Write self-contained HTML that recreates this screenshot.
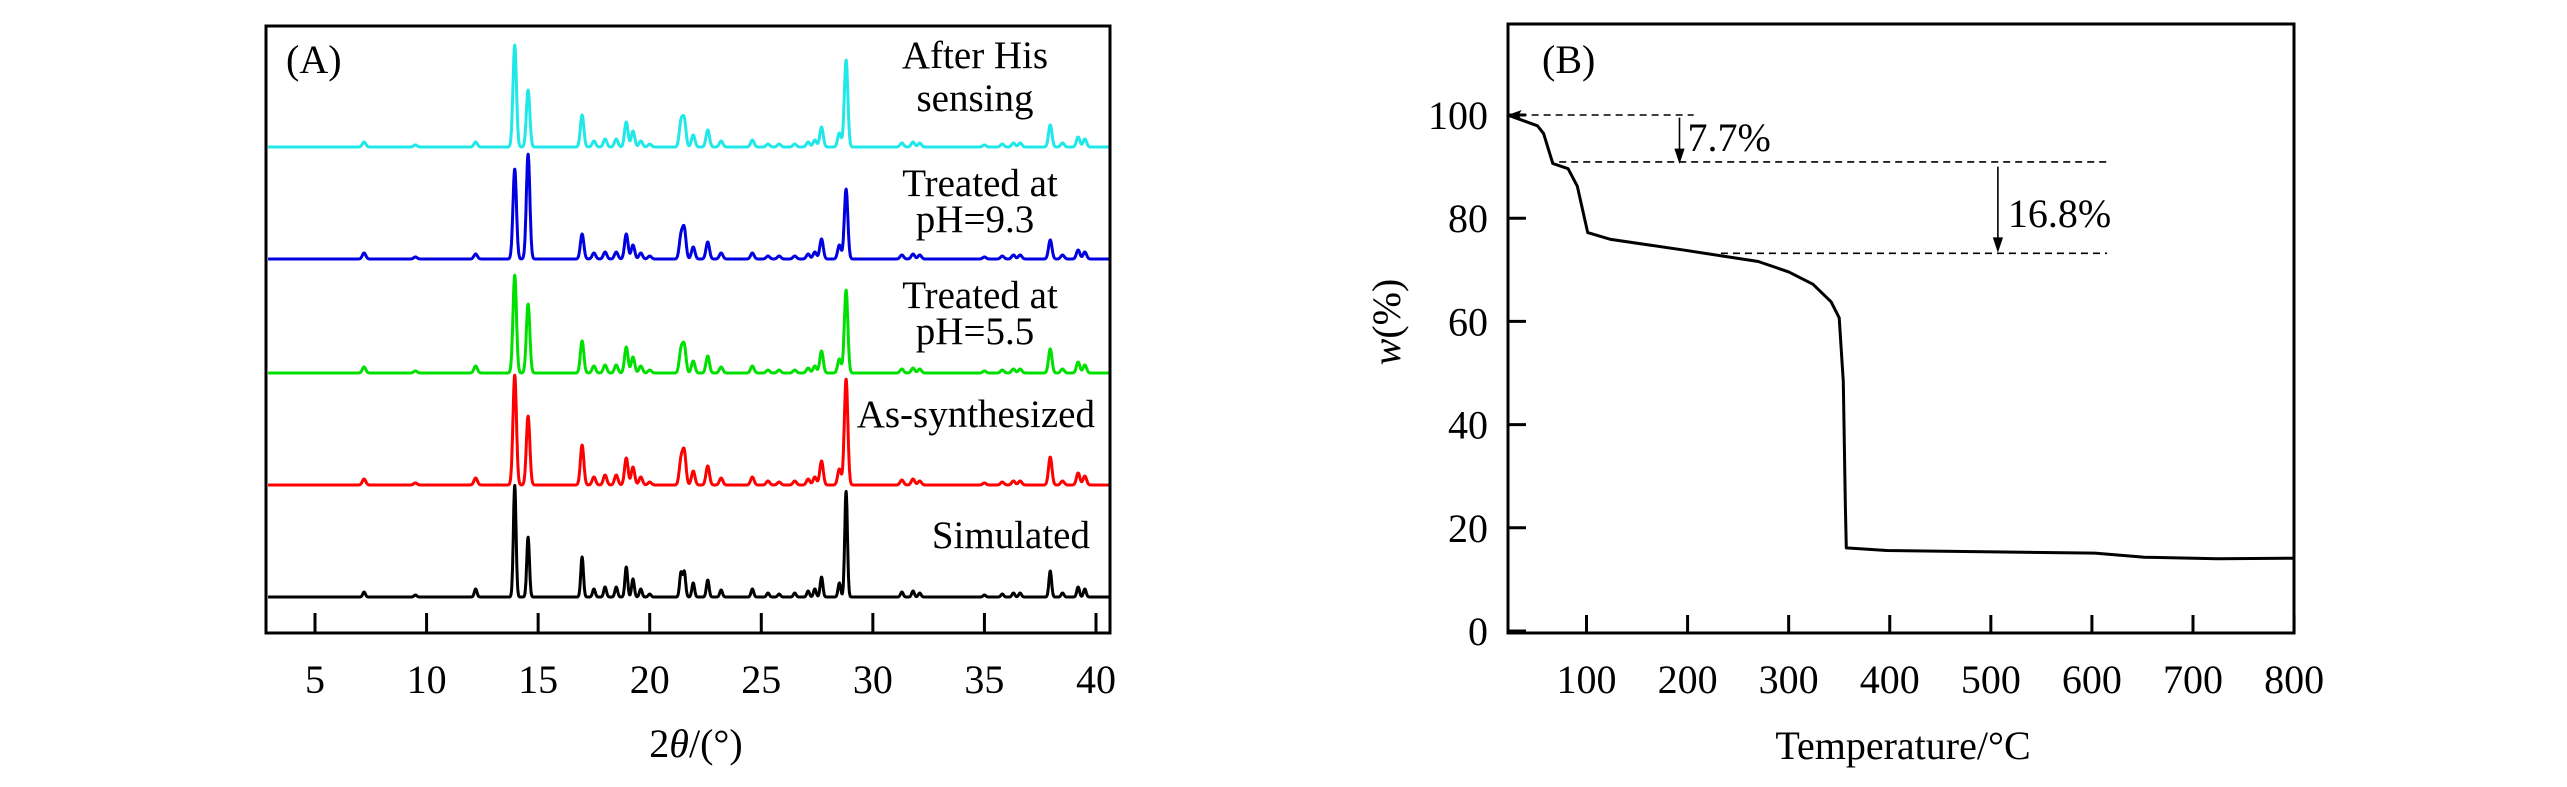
<!DOCTYPE html>
<html><head><meta charset="utf-8"><style>
html,body{margin:0;padding:0;background:#fff;}
svg{display:block;}
text{font-family:"Liberation Serif","Times New Roman",serif;fill:#000;}
</style></head><body>
<svg id="fig" width="2567" height="787" viewBox="0 0 2567 787" xmlns="http://www.w3.org/2000/svg" font-family="Liberation Serif, serif">
<defs><clipPath id="clipA"><rect x="266" y="26" width="844" height="607"/></clipPath>
<clipPath id="clipB"><rect x="1508" y="24" width="786" height="609"/></clipPath></defs>
<g id="panelA">
<g id="tracesA" clip-path="url(#clipA)"></g>
<rect x="266" y="26" width="844" height="607" fill="none" stroke="#000" stroke-width="3"/>
<g id="ticksA"></g>
<text x="286" y="73" font-size="40">(A)</text>
<text x="696" y="757" font-size="40" text-anchor="middle">2<tspan font-style="italic">θ</tspan>/(°)</text>
<g font-size="39">
<text x="975" y="68" text-anchor="middle">After His</text>
<text x="975" y="111" text-anchor="middle">sensing</text>
<text x="980" y="196" text-anchor="middle">Treated at</text>
<text x="975" y="232" text-anchor="middle">pH=9.3</text>
<text x="980" y="308" text-anchor="middle">Treated at</text>
<text x="975" y="344" text-anchor="middle">pH=5.5</text>
<text x="1095" y="427" text-anchor="end">As-synthesized</text>
<text x="1090" y="548" text-anchor="end">Simulated</text>
</g>
</g>
<g id="panelB">
<g id="plotB" clip-path="url(#clipB)"></g>
<rect x="1508" y="24" width="786" height="609" fill="none" stroke="#000" stroke-width="3"/>
<g id="ticksB"></g>
<text x="1542" y="73" font-size="40">(B)</text>
<text x="1903" y="759" font-size="40" text-anchor="middle">Temperature/°C</text>
<text transform="translate(1400,322) rotate(-90)" font-size="40" text-anchor="middle"><tspan font-style="italic">w</tspan>(%)</text>
<text id="lab77" font-size="40">7.7%</text>
<text id="lab168" font-size="40">16.8%</text>
</g>
</svg>
<script>
// ---------- Panel A data ----------
const peakPos = [7.2,9.5,12.2,13.95,14.55,16.97,17.5,18.0,18.5,18.95,19.25,19.6,20.0,21.4,21.55,21.95,22.6,23.2,24.6,25.3,25.8,26.5,27.1,27.4,27.7,28.5,28.8,31.3,31.8,32.1,35.0,35.8,36.3,36.6,37.95,38.5,39.2,39.5];
const hSimulated = [5,2,8,112,60,40,8,10,10,30,18,8,3,24,25,14,17,7,8,4,3,4,6,8,20,14,106,5,6,4,2,3,4,4,26,4,10,8];
const hAsSynth  = [6,2,7,110,69,40,8,10,10,27,18,8,3,24,32,14,19,7,8,4,3,4,6,8,24,16,106,5,6,4,2,3,4,4,28,4,12,9];
const hPH55     = [6,2,7,98,69,32,7,8,8,26,16,7,3,22,26,12,17,6,7,3,3,3,5,7,22,14,83,4,5,4,2,3,4,4,24,4,11,8];
const hPH93     = [6,2,5,90,105,25,6,7,7,25,14,6,3,22,29,12,17,6,6,3,3,3,5,7,20,14,70,4,5,4,2,3,4,4,19,4,9,7];
const hAfterHis = [5,2,5,102,57,32,6,8,8,25,16,6,3,24,26,12,17,6,7,3,3,3,5,7,20,14,87,4,5,4,2,3,4,4,22,4,10,8];
const seriesNames = ["simulated","as-synthesized","ph-5-5","ph-9-3","after-his"];
const seriesColors = ["#000000","#ff0000","#00e000","#0000e0","#20e8e8"];
const seriesBase = [597,485,373,259,147];
const xTicksA = [5,10,15,20,25,30,35,40];

const NS="http://www.w3.org/2000/svg";
const xA = v => 315 + (v-5)*(1096-315)/35;
const tracesA=document.getElementById('tracesA');
const allH=[hSimulated,hAsSynth,hPH55,hPH93,hAfterHis];
allH.forEach((hs,si)=>{
  const w = si===0?0.085:0.11;
  let d="";
  for(let t=2.9;t<=40.6;t+=0.015){
    let s=0;
    for(let k=0;k<peakPos.length;k++){const u=(t-peakPos[k])/w;s+=hs[k]*Math.exp(-u*u);}
    const y=seriesBase[si]-s;
    d+=(d?"L":"M")+xA(t).toFixed(1)+","+y.toFixed(1);
  }
  const p=document.createElementNS(NS,'path');
  p.setAttribute('d',d);p.setAttribute('fill','none');p.setAttribute('stroke',seriesColors[si]);
  p.setAttribute('stroke-width','3');p.setAttribute('stroke-linejoin','round');
  
  
  tracesA.appendChild(p);
});
const ticksA=document.getElementById('ticksA');
xTicksA.forEach(v=>{
  const l=document.createElementNS(NS,'line');
  l.setAttribute('x1',xA(v));l.setAttribute('x2',xA(v));l.setAttribute('y1',633);l.setAttribute('y2',613);
  l.setAttribute('stroke','#000');l.setAttribute('stroke-width','3');
  
  
  ticksA.appendChild(l);
  const t=document.createElementNS(NS,'text');
  t.setAttribute('x',xA(v));t.setAttribute('y',693);t.setAttribute('font-size','40');t.setAttribute('text-anchor','middle');
  t.setAttribute('font-family','Liberation Serif, serif');
  t.textContent=v;
  
  
  ticksA.appendChild(t);
});

// ---------- Panel B data ----------
const tempC  = [22,51.5,57.6,66.7,81.8,90.9,101.2,124,197,270,300,324,342,350,354,356,357,397,603,652,724,800];
const weight = [100,97.9,96.4,90.6,89.6,86.2,77.2,75.9,73.8,71.6,69.6,67.2,63.8,60.7,48.3,24.8,16.1,15.6,15.1,14.3,14.0,14.1];
const xTicksB = [100,200,300,400,500,600,700,800];
const yTicksB = [0,20,40,60,80,100];
const dashW = [100,90.9,73.2];
const dashFrom = [22,73,233];
const dashTo = [206,615,615];
const arrowT = [192,507];
const arrowFromW = [99.5,90];
const arrowToW = [91,73.8];

const xB = t => 1586.5 + (t-100)*(2193-1586.5)/600;
const yB = w => 631 - w*(631-115)/100;
const plotB=document.getElementById('plotB');
let dB="";
tempC.forEach((t,i)=>{dB+=(i?"L":"M")+xB(t).toFixed(1)+","+yB(weight[i]).toFixed(1);});
const curve=document.createElementNS(NS,'path');
curve.setAttribute('d',dB);curve.setAttribute('fill','none');curve.setAttribute('stroke','#000');curve.setAttribute('stroke-width','3');curve.setAttribute('stroke-linejoin','round');


plotB.appendChild(curve);
dashW.forEach((w,i)=>{
  const l=document.createElementNS(NS,'line');
  l.setAttribute('x1',xB(dashFrom[i]));l.setAttribute('x2',xB(dashTo[i]));l.setAttribute('y1',yB(w));l.setAttribute('y2',yB(w));
  l.setAttribute('stroke','#000');l.setAttribute('stroke-width','1.6');l.setAttribute('stroke-dasharray','7,5');
  
  
  plotB.appendChild(l);
});
const ah0=document.createElementNS(NS,'path');
ah0.setAttribute('d',`M${xB(22)},${yB(100)} l14,-5 l-3,5 l3,5 z`);ah0.setAttribute('fill','#000');


plotB.appendChild(ah0);
arrowT.forEach((t,i)=>{
  const x=xB(t),y1=yB(arrowFromW[i]),y2=yB(arrowToW[i]);
  const g=document.createElementNS(NS,'path');
  g.setAttribute('d',`M${x},${y1}L${x},${y2-8}M${x-4},${y2-12}L${x},${y2}L${x+4},${y2-12}Z`);
  g.setAttribute('stroke','#000');g.setAttribute('stroke-width','1.6');g.setAttribute('fill','#000');
  
  
  plotB.appendChild(g);
});
const l77=document.getElementById('lab77');l77.setAttribute('x',xB(arrowT[0])+8);l77.setAttribute('y',151);
const l168=document.getElementById('lab168');l168.setAttribute('x',xB(arrowT[1])+10);l168.setAttribute('y',227);
const ticksB=document.getElementById('ticksB');
xTicksB.forEach(v=>{
  const l=document.createElementNS(NS,'line');
  l.setAttribute('x1',xB(v));l.setAttribute('x2',xB(v));l.setAttribute('y1',633);l.setAttribute('y2',615);
  l.setAttribute('stroke','#000');l.setAttribute('stroke-width','3');
  
  
  ticksB.appendChild(l);
  const t=document.createElementNS(NS,'text');
  t.setAttribute('x',xB(v));t.setAttribute('y',693);t.setAttribute('font-size','40');t.setAttribute('text-anchor','middle');
  t.setAttribute('font-family','Liberation Serif, serif');
  t.textContent=v;
  
  
  ticksB.appendChild(t);
});
yTicksB.forEach(v=>{
  const l=document.createElementNS(NS,'line');
  l.setAttribute('x1',1508);l.setAttribute('x2',1526);l.setAttribute('y1',yB(v));l.setAttribute('y2',yB(v));
  l.setAttribute('stroke','#000');l.setAttribute('stroke-width','3');
  
  
  ticksB.appendChild(l);
  const t=document.createElementNS(NS,'text');
  t.setAttribute('x',1488);t.setAttribute('y',yB(v)+14);t.setAttribute('font-size','40');t.setAttribute('text-anchor','end');
  t.setAttribute('font-family','Liberation Serif, serif');
  t.textContent=v;
  
  
  ticksB.appendChild(t);
});
</script>
</body></html>
